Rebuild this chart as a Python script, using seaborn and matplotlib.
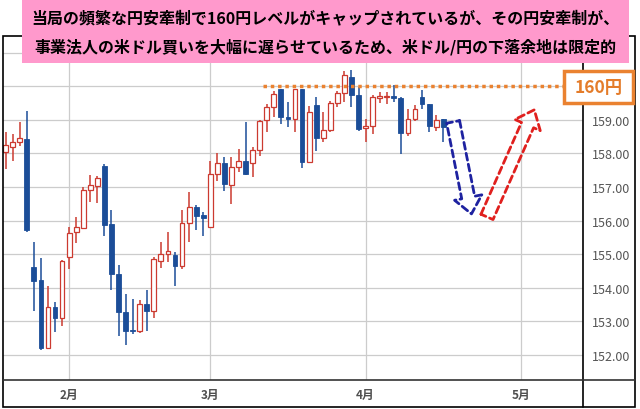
import numpy as np
import pandas as pd
import matplotlib
matplotlib.use('Agg')
import matplotlib.pyplot as plt
from matplotlib.patches import Rectangle
from matplotlib.lines import Line2D
import seaborn as sns

# daily candles (trading-day index 0..62)
opens = [158.05, 158.19, 158.34, 158.43, 154.61, 154.23, 152.20, 153.42, 153.11, 154.91,
         155.65, 155.77, 156.91, 157.04, 157.62, 155.90, 154.41, 153.27, 152.75, 152.72,
         153.52, 153.30, 154.79, 154.99, 154.96, 154.66, 155.92, 156.40, 156.17, 155.80,
         157.39, 157.72, 157.07, 157.59, 157.79, 157.71, 158.09, 159.00, 159.38, 159.92,
         159.10, 159.03, 159.92, 157.74, 159.43, 158.46, 158.70, 159.50, 159.80, 160.27,
         159.74, 158.76, 158.83, 159.65, 159.69, 159.71, 159.65, 158.60, 159.03, 159.68,
         159.46, 158.80, 159.03]
highs = [158.64, 158.58, 158.95, 159.28, 155.37, 154.89, 154.06, 153.57, 154.83, 155.82,
         156.12, 156.99, 157.36, 157.32, 157.68, 156.33, 154.68, 153.80, 153.67, 153.62,
         153.94, 154.91, 155.36, 155.65, 155.06, 156.32, 156.86, 156.47, 156.27, 157.79,
         158.02, 157.89, 157.89, 158.14, 158.93, 158.19, 159.00, 159.48, 159.85, 159.93,
         159.53, 159.93, 159.93, 159.40, 159.68, 159.23, 159.56, 159.87, 160.47, 160.49,
         159.97, 159.03, 159.75, 159.82, 159.84, 160.05, 159.68, 159.33, 159.43, 159.89,
         159.48, 159.16, 159.03]
lows = [157.54, 157.79, 158.23, 155.65, 153.32, 152.13, 152.18, 152.69, 152.87, 154.56,
        155.34, 155.75, 156.55, 156.53, 155.55, 153.92, 152.57, 152.28, 152.63, 152.66,
        152.72, 153.09, 154.58, 154.76, 154.05, 154.56, 155.37, 155.73, 155.55, 155.78,
        157.19, 156.89, 156.48, 157.44, 157.37, 157.31, 157.91, 158.63, 159.08, 158.88,
        158.78, 158.63, 157.57, 157.71, 158.07, 158.34, 158.63, 159.38, 159.53, 159.38,
        158.68, 158.34, 158.58, 159.50, 159.48, 159.53, 157.97, 158.53, 158.96, 159.33,
        158.63, 158.68, 158.34]
closes = [158.25, 158.34, 158.46, 155.73, 154.21, 152.20, 153.42, 153.11, 154.79, 155.63,
          155.80, 156.92, 157.06, 157.26, 155.88, 154.40, 153.27, 152.72, 152.70, 153.52,
          153.30, 154.86, 155.01, 155.09, 154.66, 155.92, 156.40, 156.15, 156.07, 157.39,
          157.72, 157.09, 157.59, 157.79, 157.39, 158.09, 158.98, 159.38, 159.77, 159.08,
          159.03, 159.92, 157.74, 159.25, 158.46, 158.71, 159.50, 159.80, 160.34, 159.75,
          158.73, 158.83, 159.68, 159.72, 159.71, 159.65, 158.60, 159.03, 159.33, 159.46,
          158.83, 159.00, 158.80]

month_labels = ['2月', '3月', '4月', '5月']
month_pos = [9, 29, 51, 73]
price_ticks = [152, 153, 154, 155, 156, 157, 158, 159, 160, 161]
cap_level = 160
cap_label = '160円'
title_lines = ['当局の頻繁な円安牽制で160円レベルがキャップされているが、その円安牽制が、',
               '事業法人の米ドル買いを大幅に遅らせているため、米ドル/円の下落余地は限定的']

RED = '#CC3A30'
BLUE = '#1B4D98'
ORANGE = '#EA8230'

df = pd.DataFrame({'open': opens, 'high': highs, 'low': lows, 'close': closes})
df['idx'] = np.arange(len(df))
df['up'] = df['close'] >= df['open']
df['bottom'] = df[['open', 'close']].min(axis=1)
df['height'] = (df['close'] - df['open']).abs().clip(lower=0.03)

sns.set_theme(style='white')
plt.rcParams['font.family'] = ['Noto Sans CJK JP', 'DejaVu Sans']

W, H = 640, 410
fig = plt.figure(figsize=(6.4, 4.1), dpi=100)
ax = fig.add_axes([3 / W, 1 - 381 / H, 580 / W, 344 / H])

up = df[df['up']]
dn = df[~df['up']]
ax.vlines(up['idx'], up['low'], up['high'], color=RED, lw=1.1, zorder=2)
ax.vlines(dn['idx'], dn['low'], dn['high'], color=BLUE, lw=1.1, zorder=2)
ax.bar(up['idx'], up['height'], bottom=up['bottom'], width=0.68,
       facecolor='white', edgecolor=RED, linewidth=0.9, zorder=3)
ax.bar(dn['idx'], dn['height'], bottom=dn['bottom'], width=0.68,
       facecolor=BLUE, edgecolor=BLUE, linewidth=0.6, zorder=3)

# 160 cap line
ax.hlines(cap_level, 36.5, 81.8, color=ORANGE, lw=2.5, linestyle=(0, (1, 1.1)), zorder=4)

# hollow dashed arrows
ax.annotate('', xy=(66.0, 156.2), xytext=(63.4, 158.94), annotation_clip=False,
            arrowprops=dict(arrowstyle='simple,head_length=1.2,head_width=2.0,tail_width=0.95',
                            fc='none', ec='#1E22A0', lw=2, ls=(0, (2.5, 1.5)),
                            mutation_scale=10, shrinkA=0, shrinkB=0))
ax.annotate('', xy=(74.9, 159.3), xytext=(68.2, 156.11), annotation_clip=False,
            arrowprops=dict(arrowstyle='simple,head_length=1.2,head_width=2.0,tail_width=0.95',
                            fc='none', ec='#E0201E', lw=2, ls=(0, (2.5, 1.5)),
                            mutation_scale=10, shrinkA=0, shrinkB=0))

ax.set_xlim(-0.37, 81.8)
ax.set_ylim(151.25, 161.5)
ax.set_xticks(month_pos)
ax.set_xticklabels(month_labels, fontsize=8.5, fontweight='bold', color='#505050')
ax.set_yticks(price_ticks)
ax.set_yticklabels([f'{v:.2f}' if v < cap_level else '' for v in price_ticks],
                   fontsize=9, color='#555555')
ax.yaxis.tick_right()
ax.tick_params(axis='y', length=0, pad=6.3)
ax.tick_params(axis='x', length=0, pad=5.5)
ax.grid(True, color='#CCCCCC', lw=0.9)
ax.set_axisbelow(True)
for s in ax.spines.values():
    s.set_visible(False)

def px(x, y):
    return x / W, 1 - y / H

# outer frame and panel dividers
fig.add_artist(Rectangle(px(3, 408), 632 / W, 371 / H, fill=False, ec='black', lw=1.2,
                         transform=fig.transFigure, zorder=5))
fig.add_artist(Line2D([583 / W, 583 / W], [1 - 37 / H, 1 - 408 / H], color='black', lw=1.2,
                      transform=fig.transFigure, zorder=5))
fig.add_artist(Line2D([3 / W, 635 / W], [1 - 381 / H, 1 - 381 / H], color='#333333', lw=1.2,
                      transform=fig.transFigure, zorder=5))

# pink title box
fig.add_artist(Rectangle(px(22, 64), 607 / W, 64 / H, facecolor='#FF99CC', ec='none',
                         transform=fig.transFigure, zorder=10))
for line, y in zip(title_lines, [18, 47]):
    fig.text(*px(325.5, y), line, ha='center', va='center', fontsize=11.5,
             fontweight='bold', color='black', zorder=11)

# 160 label box
fig.add_artist(Rectangle(px(564, 104), 69 / W, 32 / H, facecolor='white', ec=ORANGE, lw=2.5,
                         transform=fig.transFigure, zorder=10))
fig.text(*px(598.5, 88), cap_label, ha='center', va='center', fontsize=12.5,
         fontweight='bold', color='#E47C2A', zorder=11)

fig.savefig('out.png', dpi=100)
